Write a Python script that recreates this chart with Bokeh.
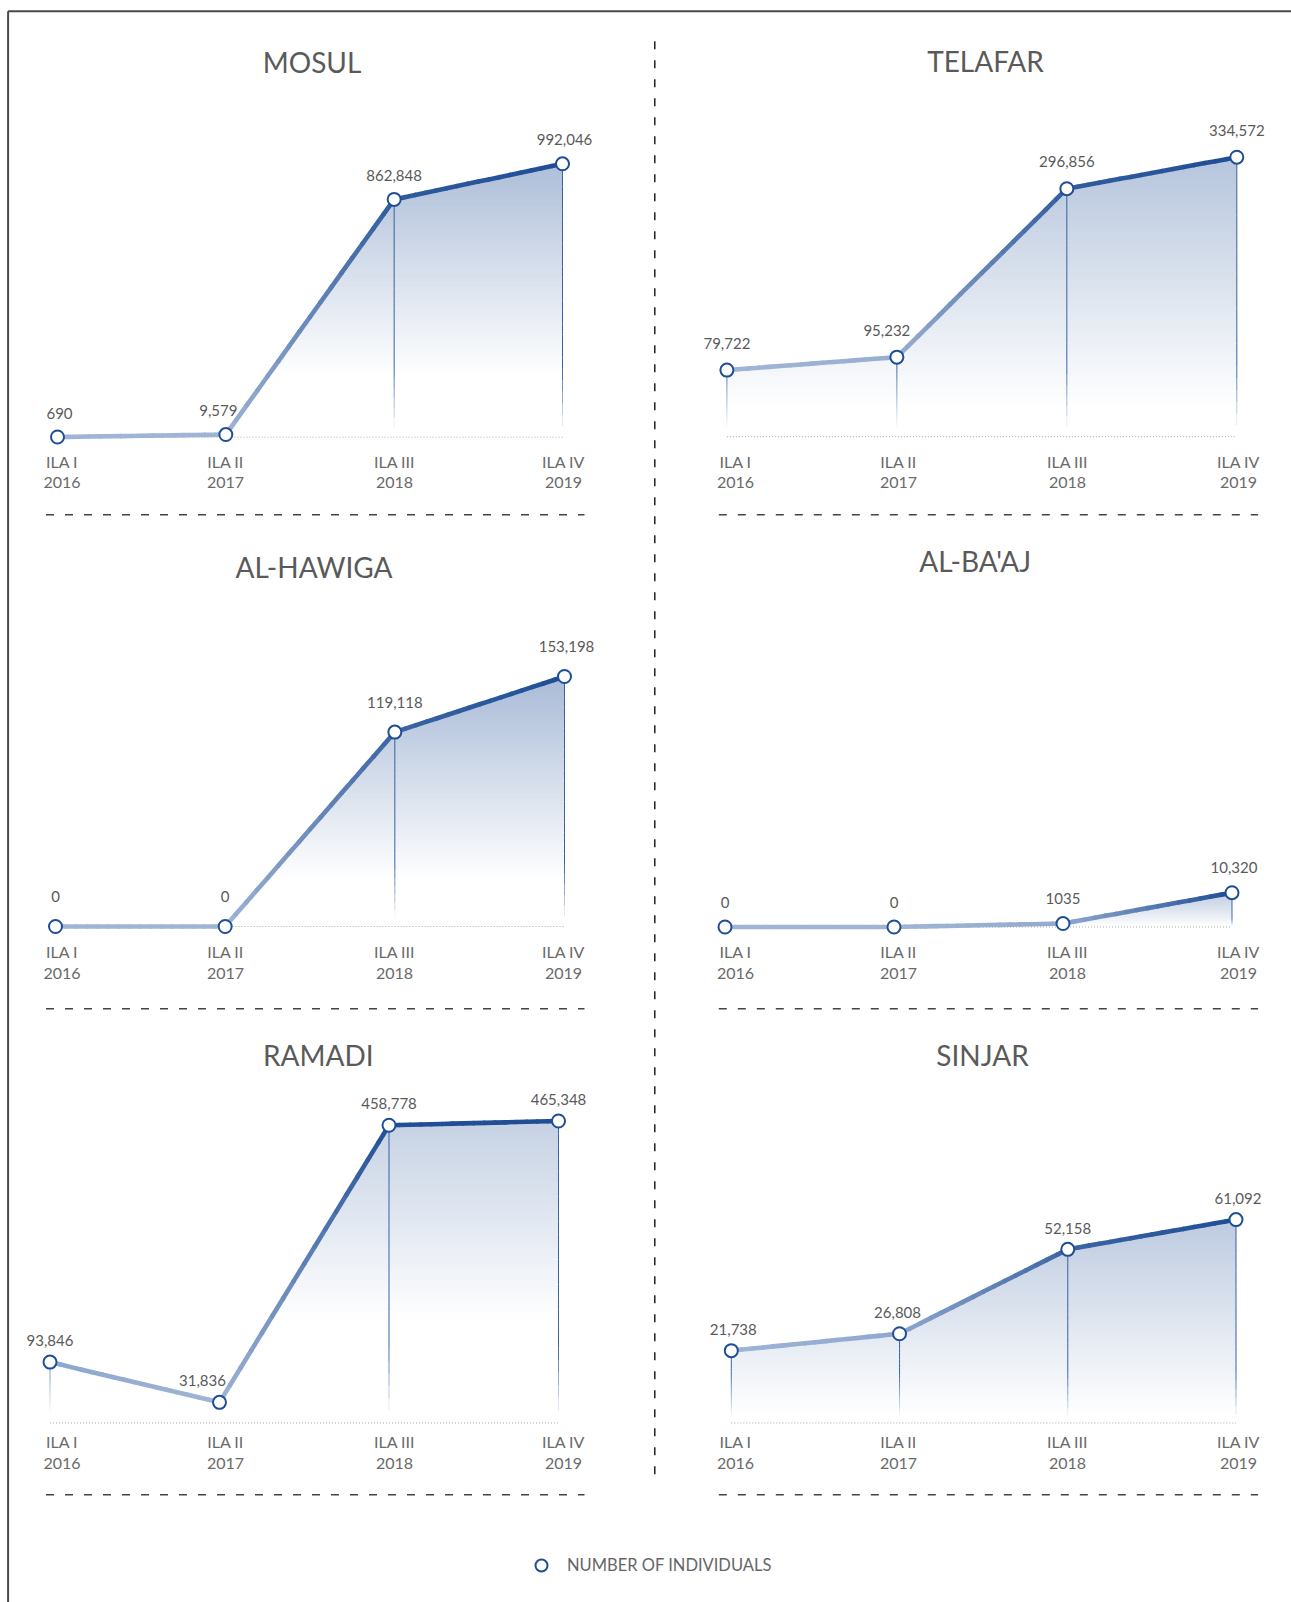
import numpy as np
from bokeh.plotting import figure
from bokeh.models import Range1d, Legend, LegendItem
from bokeh.core.properties import value
from bokeh.embed import file_html
from bokeh.resources import INLINE

# ---------------- data ----------------
rounds = ["ILA I", "ILA II", "ILA III", "ILA IV"]
years = ["2016", "2017", "2018", "2019"]

locations = ["MOSUL", "TELAFAR", "AL-HAWIGA", "AL-BA'AJ", "RAMADI", "SINJAR"]
mosul = [690, 9579, 862848, 992046]
telafar = [79722, 95232, 296856, 334572]
al_hawiga = [0, 0, 119118, 153198]
al_baaj = [0, 0, 1035, 10320]
ramadi = [93846, 31836, 458778, 465348]
sinjar = [21738, 26808, 52158, 61092]
series = [mosul, telafar, al_hawiga, al_baaj, ramadi, sinjar]
legend_label = "NUMBER OF INDIVIDUALS"

# ---------------- layout (pixels) ----------------
W, H = 1291, 1602
FONT = value("Lato")
# per panel: first/last point x, baseline y, pixel height of max value,
# title centre, label gap, label nudges, area gradient (top alpha, fade start)
panels = [
    dict(x0=57.0, x3=562.0, base=436.7, hpx=273.4, title=(311.5, 61.7), gap=24, nudge=[2, -7.5, 0, 2], fill=(0.37, 0.22)),
    dict(x0=726.4, x3=1236.3, base=436.2, hpx=279.5, title=(985.0, 60.0), gap=27, nudge=[0, -10, 0, 0], fill=(0.33, 0.10)),
    dict(x0=55.0, x3=564.0, base=926.0, hpx=250.0, title=(313.5, 566.7), gap=30, nudge=[0, 0, 0, 2], fill=(0.39, 0.18)),
    dict(x0=724.5, x3=1231.5, base=926.5, hpx=34.3, title=(974.7, 560.7), gap=25, nudge=[0, 0, 0, 2], fill=(0.30, 0.0)),
    dict(x0=49.5, x3=558.0, base=1422.5, hpx=302.0, title=(317.8, 1054.0), gap=21.5, nudge=[0, -17, 0, 0], fill=(0.26, 0.33)),
    dict(x0=730.8, x3=1235.5, base=1422.5, hpx=203.4, title=(982.0, 1054.3), gap=21, nudge=[2, -2, 0, 2], fill=(0.30, 0.03)),
]
tick_x = [[61.5, 225.0, 394.0, 563.0], [735.0, 898.0, 1067.0, 1238.0]]
tick_y = [460.5, 951.0, 1441.0]
sep_y = [514.3, 1008.3, 1494.2]
sep_x = [(45.5, 584.0), (718.3, 1257.6)]

LIGHT = np.array([160, 181, 214])
DARK = np.array([31, 78, 150])


def mix(t):
    c = LIGHT + (DARK - LIGHT) * float(np.clip(t, 0, 1))
    return "#%02x%02x%02x" % tuple(int(round(v)) for v in c)


def fmt(v):
    return "1035" if v == 1035 else f"{v:,}"


def gradient(top_alpha, t0, nr=300):
    tt = (np.arange(nr) + 0.5) / nr
    alpha = top_alpha * np.clip((tt - t0) / (1 - t0), 0, 1)
    img = np.zeros((nr, 1), dtype=np.uint32)
    view = img.view(dtype=np.uint8).reshape((nr, 1, 4))
    view[:, 0, 0] = DARK[0]
    view[:, 0, 1] = DARK[1]
    view[:, 0, 2] = DARK[2]
    view[:, 0, 3] = (alpha * 255).astype(np.uint8)
    return img


p = figure(width=W, height=H, x_range=Range1d(0, W), y_range=Range1d(H, 0),
           min_border=0, toolbar_location=None, output_backend="svg",
           x_axis_location=None, y_axis_location=None, outline_line_color=None)
p.grid.visible = False
p.background_fill_color = "white"

# page frame
p.line([7.6, W], [10.7, 10.7], line_color="#4a4a4a", line_width=2)
p.line([7.6, 7.6], [10.7, H], line_color="#4a4a4a", line_width=2)
# vertical divider
p.line([654.3, 654.3], [40.7, 1478.0], line_color="#111111", line_width=1.4, line_dash="8 11")
# horizontal separators
for yy in sep_y:
    for (xa, xb) in sep_x:
        p.line([xa, xb], [yy, yy], line_color="#444444", line_width=1.4, line_dash="8 11")

first_scatter = None
for i, (name, vals, lay) in enumerate(zip(locations, series, panels)):
    xr, yr = f"x{i}", f"y{i}"
    dx = (lay["x3"] - lay["x0"]) / 3.0
    p.extra_x_ranges[xr] = Range1d(-lay["x0"] / dx, (W - lay["x0"]) / dx)
    v = np.array(vals, dtype=float)
    vmax, vmin = v.max(), v.min()
    k = lay["hpx"] / vmax
    p.extra_y_ranges[yr] = Range1d((lay["base"] - H) / k, lay["base"] / k)
    kw = dict(x_range_name=xr, y_range_name=yr)
    idx = list(range(len(vals)))

    # title
    p.text(x=[lay["title"][0]], y=[lay["title"][1]], text=[name], text_font=FONT,
           text_font_size="28px", text_color="#5a5a5a", text_align="center",
           text_baseline="middle")

    # dotted baseline
    p.line([0, 3], [0, 0], line_color="#a8a8a8", line_width=1, line_dash="1 2", **kw)

    # gradient area + white mask above the line
    p.image_rgba(image=[gradient(*lay["fill"])], x=0, y=0, dw=3, dh=vmax, **kw)
    top = vmax * 1.02
    p.patch(x=idx + [3.03, 3.03, -0.03, -0.03],
            y=list(v) + [v[3], top, top, v[0]],
            fill_color="white", line_color=None, **kw)

    # vertical drop lines, fading to the baseline
    sx0, sy0, sx1, sy1, sa = [], [], [], [], []
    n = 24
    for j in idx:
        if v[j] <= 0:
            continue
        edges = np.linspace(0, v[j], n + 1)
        for a, b in zip(edges[:-1], edges[1:]):
            tm = (a + b) / 2 / vmax
            sx0.append(j); sx1.append(j); sy0.append(a); sy1.append(b)
            sa.append(float(np.clip((tm - 0.03) / 0.22, 0, 1)) * 0.95)
    if sx0:
        p.segment(x0=sx0, y0=sy0, x1=sx1, y1=sy1, line_color="#2d5a9c",
                  line_alpha=sa, line_width=1, **kw)

    # main line with vertical colour gradient
    lx0, ly0, lx1, ly1, lc = [], [], [], [], []
    m = 16
    span = (vmax - vmin) if vmax > vmin else 1.0
    for j in range(3):
        for s in range(m):
            a, b = s / m, (s + 1) / m
            ya = v[j] + (v[j + 1] - v[j]) * a
            yb = v[j] + (v[j + 1] - v[j]) * b
            lx0.append(j + a); lx1.append(j + b); ly0.append(ya); ly1.append(yb)
            lc.append(mix(((ya + yb) / 2 - vmin) / span))
    p.segment(x0=lx0, y0=ly0, x1=lx1, y1=ly1, line_color=lc, line_width=4.6,
              line_cap="round", **kw)

    # points
    sc = p.scatter(x=idx, y=list(v), marker="circle", size=13, fill_color="white",
                   line_color="#1f4e96", line_width=2, **kw)
    if first_scatter is None:
        first_scatter = sc

    # value labels
    p.text(x=idx, y=list(v), text=[fmt(val) for val in vals], x_offset=lay["nudge"],
           y_offset=-lay["gap"], text_font=FONT, text_font_size="15px",
           text_color="#5a5a5a", text_align="center", text_baseline="middle", **kw)

    # category labels
    col = i % 2
    row = i // 2
    p.text(x=tick_x[col], y=[tick_y[row]] * 4, text=rounds, text_font=FONT,
           text_font_size="16px", text_color="#6a6a6a", text_align="center",
           text_baseline="middle")
    p.text(x=tick_x[col], y=[tick_y[row] + 21.8] * 4, text=years, text_font=FONT,
           text_font_size="16px", text_color="#6a6a6a", text_align="center",
           text_baseline="middle")

legend = Legend(items=[LegendItem(label=legend_label, renderers=[first_scatter])],
                location=(526, 22), label_text_font="Lato", label_text_font_size="16.5px",
                label_text_color="#666666", border_line_color=None,
                background_fill_alpha=0, padding=0, margin=0, glyph_width=30,
                glyph_height=30, label_standoff=11, label_height=30, spacing=0)
p.add_layout(legend)

open("out.html", "w").write(file_html(p, INLINE))
